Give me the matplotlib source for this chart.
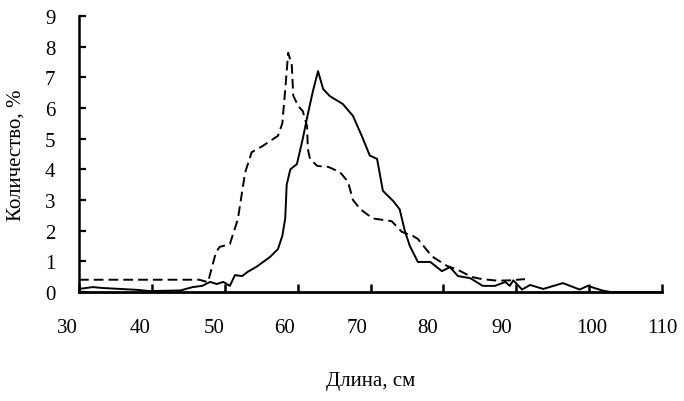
import matplotlib
matplotlib.use("Agg")
import matplotlib.pyplot as plt
from matplotlib.transforms import ScaledTranslation

plt.rcParams["font.family"] = ["Liberation Serif", "DejaVu Serif"]

# Сплошная линия
length_solid = [30.0, 31.9, 33.3, 38.0, 39.7, 43.9, 45.6, 46.9, 48.0, 48.9, 49.8,
                50.7, 51.4, 52.4, 53.1, 54.4, 56.2, 57.3, 57.9, 58.3, 58.5, 59.0,
                59.9, 60.7, 61.4, 62.1, 62.8, 63.5, 64.4, 66.2, 67.6, 68.8, 69.9,
                70.9, 71.7, 73.1, 74.0, 74.7, 75.4, 76.5, 78.2, 79.8, 80.9, 82.0,
                83.7, 85.4, 87.1, 88.5, 89.1, 89.6, 90.8, 91.9, 93.7, 96.4, 98.7,
                99.8, 101.8, 102.9, 110.0]
share_solid = [0.10, 0.16, 0.13, 0.07, 0.03, 0.05, 0.16, 0.20, 0.33, 0.26, 0.33,
               0.20, 0.55, 0.52, 0.65, 0.83, 1.14, 1.40, 1.83, 2.40, 3.50, 4.00,
               4.17, 4.99, 5.80, 6.55, 7.20, 6.62, 6.39, 6.13, 5.74, 5.09, 4.45,
               4.34, 3.30, 2.97, 2.70, 2.00, 1.50, 0.98, 0.98, 0.68, 0.81, 0.52,
               0.45, 0.20, 0.20, 0.33, 0.20, 0.38, 0.08, 0.23, 0.10, 0.29, 0.08,
               0.20, 0.05, 0.00, 0.00]

# Пунктирная линия
length_dash = [30.0, 40.0, 46.5, 47.7, 48.8, 49.3, 50.7, 51.8, 52.8, 53.7, 55.2,
               56.2, 57.3, 57.9, 58.3, 58.7, 59.2, 59.4, 60.1, 60.7, 61.3, 61.4,
               61.7, 62.7, 64.2, 65.8, 66.9, 67.6, 68.6, 70.3, 72.9, 74.3, 75.8,
               76.5, 78.4, 79.5, 80.5, 82.0, 83.9, 85.3, 87.4, 89.1, 91.2]
share_dash = [0.40, 0.40, 0.40, 0.32, 1.30, 1.47, 1.56, 2.38, 3.90, 4.56, 4.76,
              4.92, 5.09, 5.50, 6.60, 7.80, 7.40, 6.40, 6.06, 5.90, 5.40, 4.66,
              4.34, 4.11, 4.08, 3.91, 3.60, 3.00, 2.70, 2.40, 2.31, 1.96, 1.83,
              1.73, 1.17, 1.00, 0.85, 0.72, 0.49, 0.42, 0.37, 0.38, 0.42]

x_ticks = [30, 40, 50, 60, 70, 80, 90, 100, 110]
y_ticks = [0, 1, 2, 3, 4, 5, 6, 7, 8, 9]
# сдвиг подписей по оси X (как в оригинале, в пикселях)
x_label_shift = [-12, -12, -11, -13, -13, -16, -14, 3, 0]

fig = plt.figure(figsize=(6.84, 4.02), dpi=100)
ax = fig.add_axes([79 / 684, 1 - 293 / 402, (662 - 79) / 684, (293 - 17) / 402])

ax.plot(length_solid, share_solid, color="black", lw=1.4)
ax.plot(length_dash, share_dash, color="black", lw=1.4, linestyle=(0, (5.0, 2.6)))

ax.set_xlim(30, 110)
ax.set_ylim(0, 9)
ax.set_xticks(x_ticks)
ax.set_yticks(y_ticks)

for side in ["top", "right"]:
    ax.spines[side].set_visible(False)
ax.spines["bottom"].set_linewidth(2.0)
ax.spines["left"].set_linewidth(1.8)

ax.tick_params(axis="x", direction="in", length=6, width=1.8, pad=19, labelsize=15)
ax.tick_params(axis="y", direction="in", length=5, width=1.6, pad=17, labelsize=15)

for lab, dx in zip(ax.get_xticklabels(), x_label_shift):
    lab.set_transform(lab.get_transform() + ScaledTranslation(dx / 100, 0, fig.dpi_scale_trans))

ax.set_ylabel("Количество, %", fontsize=15, labelpad=14)
ax.set_xlabel("Длина, см", fontsize=15)
ax.xaxis.set_label_coords(0.5, -0.285)

plt.savefig("out.png", dpi=100)
plt.close()
